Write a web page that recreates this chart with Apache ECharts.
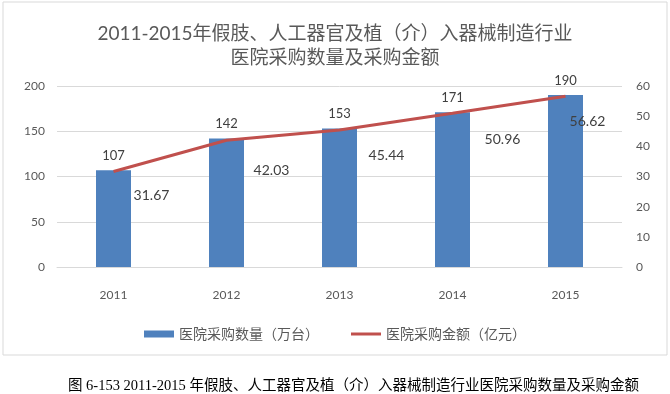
<!DOCTYPE html>
<html>
<head>
<meta charset="utf-8">
<script src="https://cdn.jsdelivr.net/npm/echarts@6/dist/echarts.min.js"></script>
<style>html,body{margin:0;padding:0;background:#fff;}#c{width:670px;height:394px;}</style>
</head>
<body>
<div id="c"></div>
<script>
var categories = ['2011', '2012', '2013', '2014', '2015'];
var quantity = [107, 142, 153, 171, 190];
var amount = [31.67, 42.03, 45.44, 50.96, 56.62];
var leftTicks = { min: 0, max: 200, interval: 50 };
var rightTicks = { min: 0, max: 60, interval: 10 };
var nameQty = '医院采购数量（万台）';
var nameAmt = '医院采购金额（亿元）';
var titleText = '2011-2015年假肢、人工器官及植（介）入器械制造行业\n医院采购数量及采购金额';
var captionText = '图 6-153 2011-2015 年假肢、人工器官及植（介）入器械制造行业医院采购数量及采购金额';

// label placement styles (not data)
var amtLabelOffsets = [[38, 24], [45, 30], [47, 26], [50, 26], [22, 25]];

var FONT = "Lato, 'Noto Sans CJK SC', sans-serif";
var chart = echarts.init(document.getElementById('c'), null, { renderer: 'canvas' });
chart.setOption({
  animation: false,
  backgroundColor: '#fff',
  graphic: [{
    type: 'rect', shape: { x: 3, y: 2, width: 664, height: 353 },
    style: { fill: 'none', stroke: '#d9d9d9', lineWidth: 1 }, silent: true
  }],
  title: [{
    text: titleText, left: 'center', top: 17,
    textStyle: { fontFamily: FONT, fontSize: 19, fontWeight: 'normal', color: '#595959', lineHeight: 24 }
  }, {
    text: captionText, left: 63, top: 374,
    textStyle: { fontFamily: "'Liberation Serif', 'Noto Sans CJK SC', serif", fontSize: 14.5, fontWeight: 'normal', color: '#000' }
  }],
  legend: {
    left: 'center', top: 322, itemGap: 32, itemWidth: 30, itemHeight: 7,
    symbolKeepAspect: true,
    textStyle: { fontFamily: FONT, fontSize: 14, color: '#595959' },
    data: [{ name: nameQty, icon: 'rect' }, { name: nameAmt, icon: 'path://M0,0H30V3H0Z' }]
  },
  grid: { left: 57, right: 48, top: 86, bottom: 127 },
  xAxis: {
    type: 'category', data: categories,
    axisLine: { lineStyle: { color: '#d9d9d9' } }, axisTick: { show: false },
    axisLabel: { color: '#595959', fontFamily: FONT, fontSize: 12, margin: 22 }
  },
  yAxis: [{
    type: 'value', min: leftTicks.min, max: leftTicks.max, interval: leftTicks.interval,
    axisLine: { show: false }, axisTick: { show: false },
    splitLine: { lineStyle: { color: '#d9d9d9' } },
    axisLabel: { color: '#595959', fontFamily: FONT, fontSize: 12, margin: 12 }
  }, {
    type: 'value', min: rightTicks.min, max: rightTicks.max, interval: rightTicks.interval,
    axisLine: { show: false }, axisTick: { show: false }, splitLine: { show: false },
    axisLabel: { color: '#595959', fontFamily: FONT, fontSize: 12, margin: 14 }
  }],
  series: [{
    name: nameQty, type: 'bar', data: quantity, barWidth: 35, yAxisIndex: 0,
    itemStyle: { color: '#4f81bd' },
    label: { show: true, position: 'top', distance: 8, color: '#404040', fontFamily: FONT, fontSize: 13 }
  }, {
    name: nameAmt, type: 'line', yAxisIndex: 1, z: 5,
    data: amount.map(function (v, i) {
      return { value: v, label: { offset: amtLabelOffsets[i] } };
    }),
    symbol: 'circle', symbolSize: 0.1, showSymbol: true,
    lineStyle: { color: '#c0504d', width: 3 }, itemStyle: { color: '#c0504d' },
    label: { show: true, position: 'inside', align: 'center', verticalAlign: 'middle', color: '#404040', fontFamily: FONT, fontSize: 14 }
  }]
});
</script>
</body>
</html>
